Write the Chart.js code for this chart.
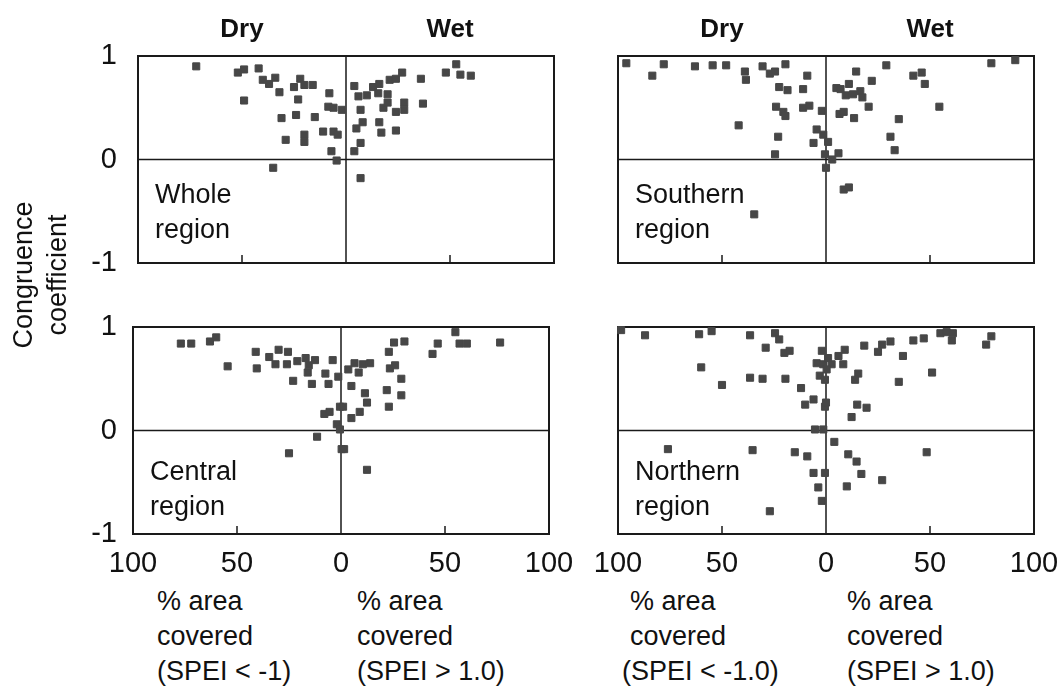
<!DOCTYPE html>
<html>
<head>
<meta charset="utf-8">
<script src="https://cdn.jsdelivr.net/npm/chart.js@4"></script>
<style>
  body { margin: 0; background: #fff; width: 1063px; height: 699px; position: relative; overflow: hidden;
         font-family: "Liberation Sans", Arial, sans-serif; color: #111; }
  canvas { position: absolute; }
  .ytitle { position: absolute; left: -60px; top: 241px; width: 200px; height: 68px; line-height: 34px;
            font-size: 27px; text-align: center; transform: rotate(-90deg); }
  .xtitle { position: absolute; top: 584px; font-size: 27px; line-height: 35px; white-space: nowrap; }
</style>
</head>
<body>
<canvas id="whole" width="570" height="280" style="left:0;top:0"></canvas>
<canvas id="southern" width="480" height="280" style="left:570px;top:0"></canvas>
<canvas id="central" width="600" height="300" style="left:0;top:280px"></canvas>
<canvas id="northern" width="493" height="300" style="left:570px;top:280px"></canvas>

<div class="ytitle">Congruence<br>coefficient</div>
<div class="xtitle" style="left:157px">% area<br>covered<br>(SPEI &lt; -1)</div>
<div class="xtitle" style="left:357px">% area<br>covered<br>(SPEI &gt; 1.0)</div>
<div class="xtitle" style="left:630px">% area<br>covered<br><span style="margin-left:-8px">(SPEI &lt; -1.0)</span></div>
<div class="xtitle" style="left:847px">% area<br>covered<br>(SPEI &gt; 1.0)</div>

<script>
// x: % area covered (dry side negative), y: congruence coefficient
const wholeX = [-72, -52, -49, -42, -40, -37, -34, -32, -49, -25, -22, -20, -16, -23, -8, -8.5, -6, -2, -31, -24,
  -15, -29, -20, -20, -11, -6, -4, -7, -4.5, -35, 4, 6, 10, 13, 16, 15.5, 20, 21, 24, 27,
  7, 18, 20, 24, 28, 28, 8, 5, 16, 17, 24, 7, 4, 36, 37, 48, 53, 55, 60, 7];
const wholeY = [0.90, 0.84, 0.87, 0.88, 0.77, 0.73, 0.79, 0.65, 0.57, 0.70, 0.78, 0.72, 0.72, 0.58, 0.64, 0.51, 0.50, 0.48, 0.40, 0.43,
  0.41, 0.19, 0.24, 0.17, 0.27, 0.27, 0.24, 0.08, -0.01, -0.08, 0.71, 0.61, 0.62, 0.70, 0.73, 0.64, 0.63, 0.77, 0.78, 0.84,
  0.48, 0.50, 0.55, 0.46, 0.55, 0.48, 0.36, 0.30, 0.36, 0.26, 0.28, 0.16, 0.08, 0.78, 0.54, 0.84, 0.92, 0.82, 0.81, -0.18];

const southX = [-96, -83.5, -78, -63, -54.5, -48, -39, -38.5, -30.5, -27, -24.5, -19.5, -9, -22.5, -18.5, -11, -24, -20.5, -19.5, -11,
  -8, -2, -4.5, -1.3, -6, -42, -23, -24.5, -0.5, 0, -34.5, 14.5, 29, 22, 11, 5, 7, 9.5, 13, 16.5,
  17.5, 20.5, 6.5, 8.5, 13.5, 42, 46, 47.5, 54.5, 35, 31, 33, 1, 6, 3, 8.5, 11, 79.5, 91];
const southY = [0.93, 0.81, 0.92, 0.90, 0.91, 0.91, 0.85, 0.77, 0.90, 0.83, 0.85, 0.92, 0.81, 0.70, 0.67, 0.68, 0.51, 0.46, 0.42, 0.50,
  0.52, 0.47, 0.29, 0.24, 0.16, 0.33, 0.22, 0.05, 0.05, -0.08, -0.53, 0.85, 0.91, 0.76, 0.73, 0.69, 0.68, 0.62, 0.63, 0.66,
  0.60, 0.51, 0.44, 0.46, 0.40, 0.81, 0.84, 0.73, 0.51, 0.39, 0.22, 0.09, 0.17, 0.06, 0.0, -0.29, -0.27, 0.93, 0.96];

const centralX = [-77, -72, -63, -60, -54.5, -41, -40.5, -34.5, -31.5, -30, -25.5, -26, -21, -23, -17, -15.5, -12.5, -16, -14, -7.5,
  -6, -4, -1.3, -8, -5.5, -2, -0.5, -11.5, -25, 0.3, -0.5, 3.5, 6.5, 10.5, 14, 8.5, 5, 11.5, 12.5, 9,
  5, 1, 1.5, 12.5, 23, 25.5, 30.5, 23.5, 26, 29, 22, 29, 23, 44, 46.5, 55, 57, 60.5, 76.5];
const centralY = [0.84, 0.84, 0.86, 0.90, 0.62, 0.76, 0.60, 0.71, 0.64, 0.78, 0.76, 0.64, 0.67, 0.48, 0.70, 0.63, 0.68, 0.56, 0.45, 0.55,
  0.45, 0.68, 0.52, 0.16, 0.18, 0.06, 0.01, -0.06, -0.22, -0.18, 0.23, 0.59, 0.65, 0.64, 0.65, 0.56, 0.43, 0.36, 0.27, 0.18,
  0.12, 0.23, -0.18, -0.38, 0.76, 0.85, 0.86, 0.60, 0.63, 0.50, 0.39, 0.34, 0.23, 0.74, 0.84, 0.95, 0.84, 0.84, 0.85];

const northX = [-98.5, -87, -61, -55, -36.5, -24.5, -22.5, -29, -20, -17.5, -60, -50, -36.5, -30.5, -19.5, -12, -10, -6, -2, -4.5,
  -1.3, -3, -0.5, -0.5, -5.3, -1.3, -76, -35.3, -15, -9, -6, -0.5, -3.7, -2, -27,
  1, 2.7, 6, 9, 8.3, 0.3, 0, 15.5, 14, 18.4, 25, 27, 31, 37, 42, 47, 55, 58, 61, 60.5,
  77, 79.5, 51, 35, 15, 19.5, 12.3, 4, 10.7, 14.7, 48.4, 17, 27, 10];
const northY = [0.97, 0.92, 0.93, 0.96, 0.92, 0.94, 0.88, 0.80, 0.75, 0.77, 0.61, 0.44, 0.51, 0.50, 0.50, 0.41, 0.25, 0.30, 0.77, 0.65,
  0.64, 0.53, 0.49, 0.23, 0.01, 0.01, -0.18, -0.19, -0.21, -0.25, -0.41, -0.41, -0.55, -0.68, -0.78,
  0.70, 0.64, 0.72, 0.78, 0.64, 0.59, 0.27, 0.55, 0.49, 0.82, 0.76, 0.83, 0.86, 0.72, 0.87, 0.89, 0.94, 0.95, 0.94, 0.87,
  0.83, 0.91, 0.56, 0.47, 0.25, 0.22, 0.13, -0.11, -0.23, -0.30, -0.21, -0.42, -0.48, -0.54];

const xTicks = [-100, -50, 0, 50, 100];
const yTicks = [-1, 0, 1];
const sideLabels = ['Dry', 'Wet'];

const FONT = '"Liberation Sans", Arial, sans-serif';

// box, zero lines, small ticks at +-50, region name and Dry/Wet header
const framePlugin = {
  id: 'frame',
  beforeDatasetsDraw(chart, args, opts) {
    const { ctx, chartArea: a } = chart;
    const x = chart.scales.x, y = chart.scales.y;
    ctx.save();
    ctx.strokeStyle = '#1a1a1a';
    ctx.lineWidth = 1.5;
    const x0 = x.getPixelForValue(0);
    const y0 = y.getPixelForValue(0);
    ctx.beginPath();
    ctx.moveTo(x0, a.top); ctx.lineTo(x0, a.bottom);
    ctx.moveTo(a.left, y0); ctx.lineTo(a.right, y0);
    [-50, 50].forEach(v => {
      const px = x.getPixelForValue(v);
      ctx.moveTo(px, a.bottom); ctx.lineTo(px, a.bottom - 8);
    });
    ctx.stroke();
    ctx.lineWidth = 2;
    ctx.strokeRect(a.left, a.top, a.right - a.left, a.bottom - a.top);

    ctx.fillStyle = '#111';
    ctx.font = '27px ' + FONT;
    ctx.textAlign = 'left';
    ctx.textBaseline = 'alphabetic';
    opts.label.forEach((t, i) => ctx.fillText(t, a.left + 17, a.top + opts.labelTop + i * 35));

    if (opts.header) {
      ctx.font = 'bold 26px ' + FONT;
      ctx.textAlign = 'center';
      ctx.fillText(sideLabels[0], x.getPixelForValue(-50), a.top - 19);
      ctx.fillText(sideLabels[1], x.getPixelForValue(50), a.top - 19);
    }
    ctx.restore();
  }
};

function makeChart(id, xs, ys, cfg) {
  const points = xs.map((v, i) => ({ x: v, y: ys[i] }));
  return new Chart(document.getElementById(id), {
    type: 'scatter',
    data: {
      datasets: [{
        data: points,
        pointStyle: 'rect',
        pointRadius: 5,
        pointBorderWidth: 1,
        backgroundColor: '#474747',
        borderColor: '#474747',
        clip: false
      }]
    },
    options: {
      responsive: false,
      animation: false,
      events: [],
      layout: { padding: cfg.padding },
      plugins: {
        legend: { display: false },
        tooltip: { enabled: false },
        frame: { label: cfg.label, labelTop: cfg.labelTop, header: cfg.header }
      },
      scales: {
        x: {
          type: 'linear', min: -100, max: 100,
          display: cfg.showX,
          grid: { display: false, drawTicks: false },
          border: { display: false },
          afterBuildTicks: s => { s.ticks = xTicks.map(v => ({ value: v })); },
          ticks: {
            padding: 13, color: '#111', maxRotation: 0, autoSkip: false,
            font: { size: 29, family: FONT },
            callback: v => Math.abs(v)
          },
          afterFit: s => {
            s.height = cfg.showX ? 46 : 0;
            s.paddingLeft = 0; s.paddingRight = 0;
          }
        },
        y: {
          type: 'linear', min: -1, max: 1,
          display: cfg.showY,
          grid: { display: false, drawTicks: false },
          border: { display: false },
          afterBuildTicks: s => { s.ticks = yTicks.map(v => ({ value: v })); },
          ticks: {
            padding: cfg.yPad || 20, color: '#111',
            font: { size: 29, family: FONT }
          },
          afterFit: s => {
            s.width = cfg.showY ? cfg.yWidth : 0;
            s.paddingTop = 0; s.paddingBottom = 0;
          }
        }
      }
    },
    plugins: [framePlugin]
  });
}

makeChart('whole', wholeX, wholeY, {
  padding: { top: 56, right: 16, bottom: 17, left: 0 },
  showX: false, showY: true, yWidth: 138, yPad: 21,
  label: ['Whole', 'region'], labelTop: 147, header: true
});
makeChart('southern', southX, southY, {
  padding: { top: 56, right: 16, bottom: 17, left: 48 },
  showX: false, showY: false,
  label: ['Southern', 'region'], labelTop: 147, header: true
});
makeChart('central', centralX, centralY, {
  padding: { top: 47, right: 51, bottom: 0, left: 0 },
  showX: true, showY: true, yWidth: 133, yPad: 16,
  label: ['Central', 'region'], labelTop: 153, header: false
});
makeChart('northern', northX, northY, {
  padding: { top: 47, right: 29, bottom: 0, left: 48 },
  showX: true, showY: false,
  label: ['Northern', 'region'], labelTop: 153, header: false
});
</script>
</body>
</html>
